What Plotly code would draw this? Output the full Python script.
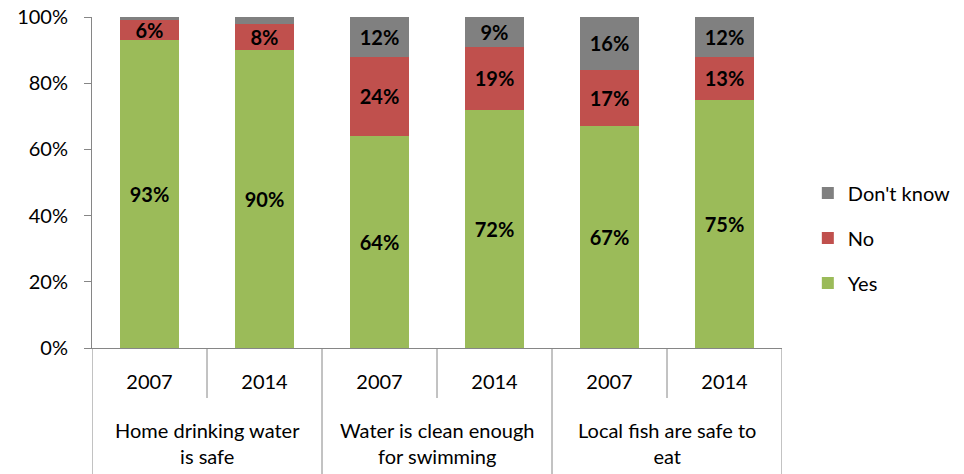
import plotly.graph_objects as go

group_labels = ["Home drinking water<br>is safe", "Water is clean enough<br>for swimming",
                "Local fish are safe to<br>eat"]
years = ["2007", "2014", "2007", "2014", "2007", "2014"]
yes = [93, 90, 64, 72, 67, 75]
no = [6, 8, 24, 19, 17, 13]
dont_know = [1, 2, 12, 9, 16, 12]

FONT = "Lato, Liberation Sans, Arial"
AX = "#868686"

xpos = list(range(len(years)))

def labels(vals):
    return [f"{v}%" if v >= 5 else "" for v in vals]

fig = go.Figure()
series = [("Yes", yes, "#9BBB59", 3), ("No", no, "#C0504D", 2), ("Don't know", dont_know, "#808080", 1)]
for name, vals, color, rank in series:
    fig.add_trace(go.Bar(
        x=xpos, y=vals, name=name, marker_color=color, marker_line_width=0,
        width=0.51,
        text=labels(vals), texttemplate="<b>%{text}</b>", textposition="inside",
        insidetextanchor="middle", textangle=0, constraintext="none",
        textfont=dict(family=FONT, size=20, color="black"),
        legendgroup=name, legendrank=rank, hoverinfo="skip",
    ))

plot_h = 474 - 17 - 126
def py(pix):  # pixel below the x axis -> paper fraction
    return -pix / plot_h

shapes = []
# short dividers between years within a group
for g in range(3):
    xm = 2 * g + 0.5
    shapes.append(dict(type="line", xref="x", yref="paper", x0=xm, x1=xm,
                       y0=0, y1=py(50), line=dict(color=AX, width=1)))
# long dividers at group boundaries
for b in range(4):
    xb = 2 * b - 0.5
    shapes.append(dict(type="line", xref="x", yref="paper", x0=xb, x1=xb,
                       y0=0, y1=py(126), line=dict(color=AX, width=1)))

annotations = []
for g, lab in enumerate(group_labels):
    annotations.append(dict(x=2 * g + 0.5, xref="x", y=py(95), yref="paper",
                            text=lab, showarrow=False, yanchor="middle",
                            font=dict(family=FONT, size=20, color="black")))

fig.update_layout(
    barmode="stack",
    width=964, height=474,
    margin=dict(l=92, r=182, t=17, b=126),
    plot_bgcolor="white", paper_bgcolor="white",
    font=dict(family=FONT, size=20, color="black"),
    legend=dict(xref="container", x=0.838, y=0.332, xanchor="left", yanchor="middle",
                traceorder="grouped", tracegroupgap=16,
                font=dict(family=FONT, size=20, color="black")),
    showlegend=True,
    shapes=shapes, annotations=annotations,
)
fig.update_yaxes(range=[0, 100], dtick=20, ticksuffix="%", showgrid=False,
                 showline=True, linecolor=AX, ticks="outside", ticklen=7,
                 tickcolor=AX, zeroline=False, automargin=False,
                 ticklabelstandoff=12,
                 tickfont=dict(family=FONT, size=20, color="black"))
fig.update_xaxes(range=[-0.5, 5.5], tickvals=xpos, ticktext=years,
                 showline=True, linecolor=AX, ticks="", showgrid=False,
                 zeroline=False, automargin=False, ticklabelstandoff=16,
                 tickfont=dict(family=FONT, size=20, color="black"))

fig.write_html("out.html", config={"displayModeBar": False},
               post_script="document.body.style.margin='0px';")
